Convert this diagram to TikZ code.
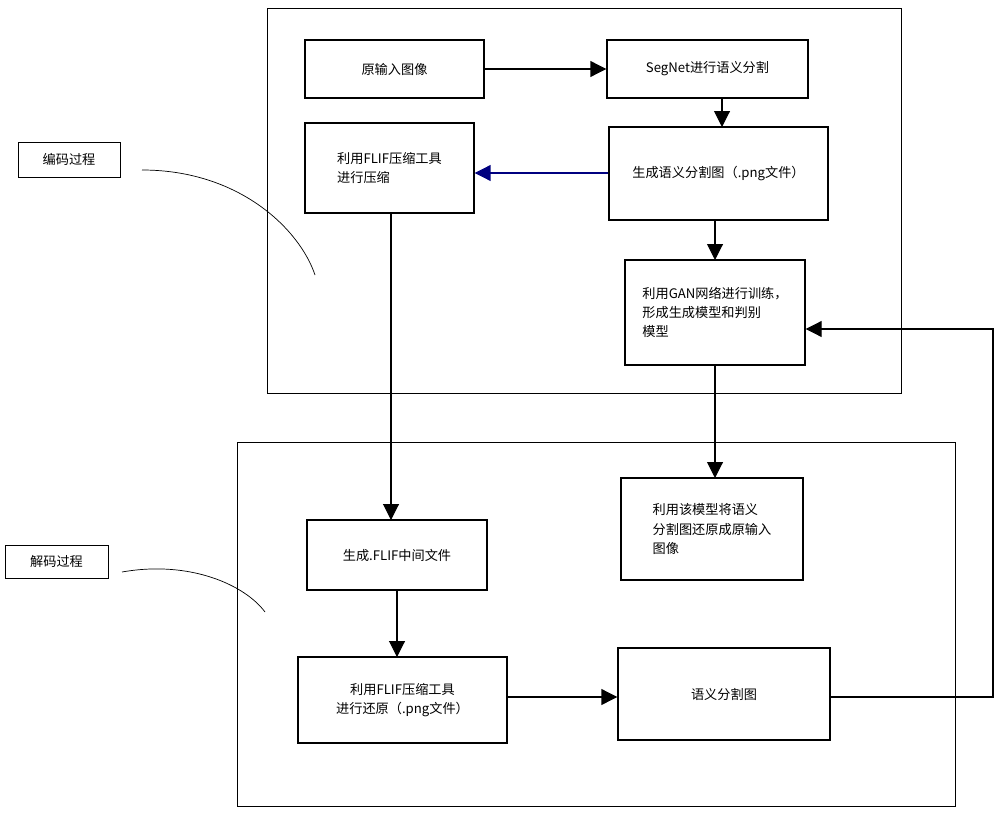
\documentclass[tikz,border=0pt]{standalone}
\usepackage{fontspec}
\setmainfont{Noto Sans CJK SC}
\usetikzlibrary{arrows.meta}
\begin{document}
\begin{tikzpicture}[x=0.02cm,y=-0.02cm,
 box/.style={draw,thick,align=center,font=\fontsize{7.5}{11}\selectfont},
 arr/.style={-{Triangle[length=9pt,width=9pt]},semithick},
 lbl/.style={draw,thin,font=\fontsize{7.5}{9}\selectfont}]
\useasboundingbox (0,0) rectangle (1000,814);
\draw[thin] (267,8) rectangle (901,393);
\draw[thin] (237,442) rectangle (955,806);
\node[box,minimum width=179*0.02cm,minimum height=58*0.02cm] (a) at (394.5,69) {原输入图像};
\node[box,minimum width=201*0.02cm,minimum height=58*0.02cm] (b) at (707.5,69) {SegNet进行语义分割};
\node[box,minimum width=169*0.02cm,minimum height=90*0.02cm,align=left] (c) at (389.5,168) {利用FLIF压缩工具\\进行压缩};
\node[box,minimum width=219*0.02cm,minimum height=93*0.02cm] (d) at (718.5,173.5) {生成语义分割图（.png文件）};
\node[box,minimum width=180*0.02cm,minimum height=105*0.02cm,align=left] (e) at (715,312.5) {利用GAN网络进行训练，\\形成生成模型和判别\\模型};
\node[box,minimum width=182*0.02cm,minimum height=102*0.02cm,align=left] (f) at (712,529) {利用该模型将语义\\分割图还原成原输入\\图像};
\node[box,minimum width=180*0.02cm,minimum height=70*0.02cm] (g) at (397,555) {生成.FLIF中间文件};
\node[box,minimum width=209*0.02cm,minimum height=86*0.02cm] (h) at (402.5,700) {利用FLIF压缩工具\\进行还原（.png文件）};
\node[box,minimum width=212*0.02cm,minimum height=92*0.02cm] (i) at (724,694) {语义分割图};
\node[lbl,minimum width=102*0.02cm,minimum height=35*0.02cm] (k1) at (69,159.5) {编码过程};
\node[lbl,minimum width=103*0.02cm,minimum height=33*0.02cm] (k2) at (56.5,561.5) {解码过程};
\draw[arr] (a) -- (b);
\draw[arr] (722,98) -- (722,127);
\draw[arr,draw=blue!50!black] (d.west |- 0,173) -- (c.east |- 0,173);
\draw[arr] (715,220) -- (715,260);
\draw[arr] (391,213) -- (391,520);
\draw[arr] (715,365) -- (715,478);
\draw[arr] (397,590) -- (397,657);
\draw[arr] (h.east |- 0,697) -- (i.west |- 0,697);
\draw[arr] (i.east |- 0,697) -- (993,697) -- (993,329) -- (e.east |- 0,329);
\draw[thin] (142,170) .. controls (240,170) and (300,230) .. (315,275);
\draw[thin] (122,572) .. controls (190,560) and (245,585) .. (265,612);
\end{tikzpicture}
\end{document}
